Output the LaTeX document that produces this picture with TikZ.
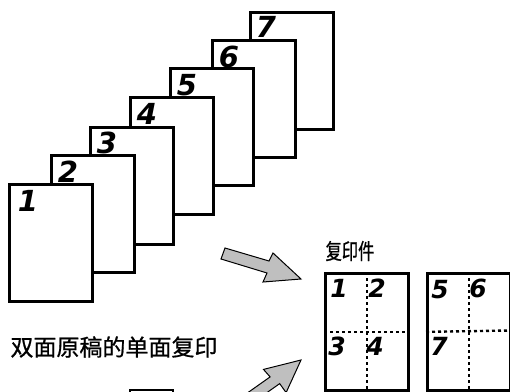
\documentclass[tikz,border=0pt]{standalone}
\usepackage{fontspec}
\newfontfamily\cjk{Noto Sans CJK SC}[FakeBold=0.8]
\newfontfamily\digf{DejaVu Sans}
\begin{document}
\begin{tikzpicture}[x=1pt,y=-1pt,
  pagebox/.style={draw,fill=white,line width=2.6pt,anchor=north west,inner sep=0pt,minimum width=83pt,minimum height=117pt},
  pagenum/.style={font=\digf\bfseries\itshape\fontsize{29}{29}\selectfont,inner sep=0pt},
  copybox/.style={draw,line width=2.7pt,anchor=north west,inner sep=0pt,minimum width=83pt,minimum height=117pt},
  copynum/.style={font=\digf\bfseries\itshape\fontsize{25}{25}\selectfont,inner sep=0pt},
  divline/.style={line width=2.4pt,dash pattern=on 3pt off 3pt},
  blockarrow/.style={draw,fill=black!25,line width=1pt,line join=miter}]
\clip (0,0) rectangle (510,391);
% stacked originals
\node[pagebox] (p7) at (249,11) {};
\node[pagenum] (n7) at (266,27) {7};
\node[pagebox] (p6) at (211,39) {};
\node[pagenum] (n6) at (229,57) {6};
\node[pagebox] (p5) at (169,67) {};
\node[pagenum] (n5) at (187,85) {5};
\node[pagebox] (p4) at (129,96) {};
\node[pagenum] (n4) at (147,114) {4};
\node[pagebox] (p3) at (89,126) {};
\node[pagenum] (n3) at (107,143) {3};
\node[pagebox] (p2) at (50,154) {};
\node[pagenum] (n2) at (68,172) {2};
\node[pagebox] (p1) at (8,183) {};
\node[pagenum] (n1) at (28,201) {1};
% arrows
\draw[blockarrow] (225,248) -- (269,261) -- (273,253) -- (301,279) -- (263,282) -- (267,273) -- (221,259) -- cycle;
\draw[blockarrow] (301,360) -- (263.5,369.4) -- (270.1,376.9) -- (233.3,402.9) -- (239.6,411.9) -- (279.7,383.6) -- (286.1,392.6) -- cycle;
% labels
\node[font=\cjk\fontsize{22}{22}\selectfont,inner sep=0pt,xscale=0.74] (lcopy) at (350,251) {复印件};
\node[font=\cjk\fontsize{23}{23}\selectfont,inner sep=0pt] (ltitle) at (114,347) {双面原稿的单面复印};
% copies
\node[copybox] (c1) at (324,272) {};
\node[copybox] (c2) at (426,272) {};
\draw[divline] (c1.north) -- (c1.south);
\draw[divline] (c1.west) -- (c1.east);
\draw[divline] (c2.north) -- (c2.south);
\coordinate (c2e) at (510,330.5);
\draw[divline] (c2.west) -- (c2e);
\node[copynum] (c1a) at (339,288) {1};
\node[copynum] (c1b) at (377,288) {2};
\node[copynum] (c1c) at (337,346) {3};
\node[copynum] (c1d) at (375,346) {4};
\node[copynum] (c2a) at (440,290) {5};
\node[copynum] (c2b) at (478,288) {6};
\node[copynum] (c2c) at (439,346) {7};
% partial box at bottom
\node[draw,line width=2.4pt,anchor=north west,inner sep=0pt,minimum width=43pt,minimum height=20pt] (bottombox) at (129,389) {};
\end{tikzpicture}
\end{document}
